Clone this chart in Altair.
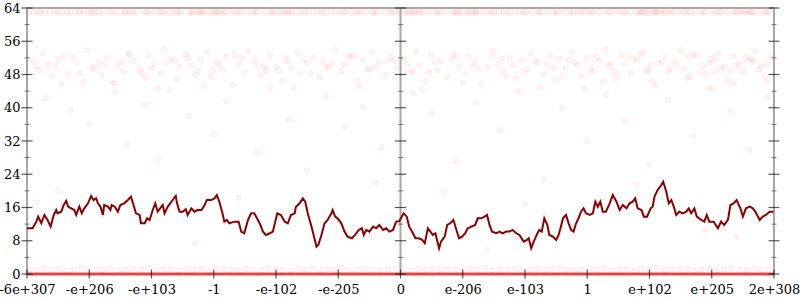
import json
import altair as alt
import pandas as pd

# ---------------- data ----------------
tick_positions = [-6, -5, -4, -3, -2, -1, 0, 1, 2, 3, 4, 5, 6]
tick_labels = ["-6e+307", "-e+206", "-e+103", "-1", "-e-102", "-e-205", "0",
               "e-206", "e-103", "1", "e+102", "e+205", "2e+308"]
y_major = [0, 8, 16, 24, 32, 40, 48, 56, 64]
y_minor = [4, 12, 20, 28, 36, 44, 52, 60]
y_tick_columns = [-6, 0, 6]

line_x = [-6.00, -5.91, -5.85, -5.82, -5.77, -5.72, -5.67, -5.62, -5.57, -5.53, -5.51, -5.45, -5.41, -5.37, -5.34,
          -5.29, -5.24, -5.21, -5.16, -5.12, -5.08, -5.02, -4.97, -4.93, -4.89, -4.86, -4.82, -4.78, -4.76, -4.70,
          -4.66, -4.64, -4.59, -4.54, -4.50, -4.44, -4.38, -4.33, -4.28, -4.25, -4.19, -4.17, -4.11, -4.07, -4.03,
          -3.98, -3.94, -3.90, -3.84, -3.82, -3.79, -3.74, -3.70, -3.66, -3.61, -3.59, -3.55, -3.50, -3.45, -3.42,
          -3.36, -3.31, -3.26, -3.20, -3.16, -3.11, -3.04, -2.99, -2.95, -2.91, -2.86, -2.83, -2.79, -2.75, -2.67,
          -2.60, -2.56, -2.51, -2.45, -2.40, -2.35, -2.29, -2.25, -2.21, -2.16, -2.10, -2.05, -1.98, -1.92, -1.86,
          -1.81, -1.76, -1.70, -1.68, -1.62, -1.57, -1.53, -1.49, -1.43, -1.39, -1.35, -1.32, -1.27, -1.22, -1.17,
          -1.11, -1.09, -1.05, -1.01, -0.95, -0.90, -0.85, -0.78, -0.73, -0.67, -0.62, -0.59, -0.55, -0.50, -0.44,
          -0.39, -0.34, -0.28, -0.23, -0.18, -0.12, -0.07, -0.02, 0.05, 0.10, 0.14, 0.20, 0.24, 0.29, 0.35,
          0.39, 0.44, 0.48, 0.52, 0.56, 0.62, 0.65, 0.71, 0.75, 0.80, 0.85, 0.89, 0.94, 0.99, 1.04,
          1.08, 1.14, 1.20, 1.24, 1.30, 1.35, 1.39, 1.43, 1.47, 1.54, 1.59, 1.64, 1.70, 1.75, 1.80,
          1.86, 1.91, 1.98, 2.03, 2.06, 2.10, 2.14, 2.20, 2.23, 2.27, 2.31, 2.36, 2.39, 2.45, 2.50,
          2.54, 2.57, 2.61, 2.66, 2.70, 2.74, 2.78, 2.82, 2.86, 2.90, 2.94, 2.98, 3.04, 3.09, 3.13,
          3.17, 3.21, 3.25, 3.30, 3.36, 3.41, 3.47, 3.52, 3.57, 3.63, 3.68, 3.73, 3.77, 3.81, 3.87,
          3.91, 3.96, 4.02, 4.05, 4.08, 4.13, 4.19, 4.22, 4.27, 4.31, 4.35, 4.39, 4.43, 4.48, 4.53,
          4.59, 4.63, 4.67, 4.72, 4.76, 4.83, 4.88, 4.92, 4.96, 5.03, 5.10, 5.15, 5.20, 5.26, 5.30,
          5.35, 5.40, 5.46, 5.50, 5.55, 5.61, 5.66, 5.70, 5.77, 5.82, 5.87, 5.93, 5.99]
line_y = [11.0, 11.0, 12.6, 13.8, 12.2, 14.2, 13.0, 11.4, 14.2, 15.4, 14.6, 15.0, 16.6, 17.6, 16.2,
          15.8, 15.4, 14.2, 16.2, 14.6, 15.8, 17.0, 18.8, 17.8, 18.2, 17.0, 16.2, 14.2, 16.6, 16.2,
          15.4, 16.6, 16.2, 15.0, 16.6, 17.0, 17.8, 18.6, 16.2, 14.6, 14.2, 12.2, 12.2, 13.4, 13.0,
          15.4, 17.0, 15.0, 16.2, 16.6, 14.6, 16.2, 17.0, 17.8, 18.8, 17.0, 15.0, 15.0, 15.6, 14.2,
          15.8, 15.0, 15.4, 15.4, 16.2, 17.8, 17.8, 18.2, 19.0, 17.4, 14.6, 12.6, 13.0, 12.2, 12.6,
          12.6, 10.2, 9.8, 13.0, 14.6, 14.6, 13.0, 11.8, 10.2, 9.4, 9.8, 10.2, 14.6, 14.2, 12.6,
          12.2, 14.2, 14.6, 16.2, 17.0, 18.2, 17.4, 14.6, 11.4, 9.0, 6.6, 7.0, 9.4, 12.2, 13.0,
          14.6, 15.4, 13.8, 13.4, 12.2, 10.2, 9.0, 8.6, 9.4, 10.6, 11.0, 9.4, 10.6, 10.2, 11.4,
          11.0, 11.8, 10.6, 11.0, 10.2, 10.6, 12.6, 12.7, 14.6, 13.8, 11.4, 9.8, 8.6, 8.6, 8.2,
          7.4, 11.0, 10.2, 9.4, 9.8, 6.2, 7.8, 9.0, 11.8, 12.2, 13.0, 11.0, 8.6, 9.0, 9.8,
          11.0, 11.4, 11.8, 13.4, 13.4, 13.8, 14.2, 11.8, 10.2, 9.8, 10.2, 9.8, 10.2, 10.2, 10.6,
          9.8, 9.4, 7.8, 8.2, 8.6, 6.2, 7.8, 9.8, 10.6, 10.2, 13.4, 11.8, 9.4, 9.0, 8.2,
          9.4, 11.0, 13.4, 14.2, 12.2, 10.6, 10.2, 12.2, 13.4, 15.0, 15.8, 14.6, 14.2, 14.6, 17.4,
          16.2, 17.4, 15.0, 15.0, 17.0, 19.0, 17.4, 15.4, 16.6, 15.8, 17.0, 17.4, 18.2, 15.8, 15.4,
          13.8, 13.8, 15.8, 16.2, 18.6, 20.2, 21.4, 22.2, 19.8, 17.0, 17.8, 16.2, 14.2, 15.0, 14.6,
          15.0, 15.8, 14.6, 15.8, 13.8, 13.0, 12.6, 14.2, 12.6, 12.6, 11.0, 12.6, 11.8, 13.0, 16.6,
          17.0, 17.8, 15.8, 13.8, 15.8, 16.2, 15.8, 15.0, 13.0, 13.8, 14.2, 15.0, 15.0]

cloud_x = [-5.9, -5.8, -5.75, -5.6, -5.55, -5.4, -5.35, -5.2, -5.1, -5.05, -4.95, -4.85, -4.8, -4.7, -4.6,
           -4.55, -4.45, -4.35, -4.3, -4.2, -4.1, -4.05, -3.95, -3.85, -3.8, -3.7, -3.6, -3.55, -3.45, -3.35,
           -3.3, -3.2, -3.1, -3.05, -2.95, -2.85, -2.8, -2.7, -2.6, -2.5, -2.45, -2.35, -2.25, -2.2, -2.1,
           -2.0, -1.9, -1.85, -1.75, -1.65, -1.6, -1.5, -1.4, -1.3, -1.25, -1.15, -1.05, -0.95, -0.9, -0.8,
           -0.7, -0.6, -0.5, -0.45, -0.35, -0.25, -0.15, -0.05, 0.05, 0.15, 0.25, 0.3, 0.4, 0.5, 0.6,
           0.65, 0.75, 0.85, 0.95, 1.05, 1.1, 1.2, 1.3, 1.4, 1.5, 1.55, 1.65, 1.75, 1.85, 1.95,
           2.05, 2.1, 2.2, 2.3, 2.4, 2.5, 2.55, 2.65, 2.75, 2.85, 2.9, 3.0, 3.1, 3.2, 3.3,
           3.35, 3.45, 3.55, 3.6, 3.7, 3.8, 3.9, 3.95, 4.05, 4.15, 4.25, 4.3, 4.4, 4.5, 4.55,
           4.65, 4.75, 4.85, 4.9, 5.0, 5.1, 5.2, 5.25, 5.35, 5.45, 5.5, 5.6, 5.7, 5.75, 5.85, 5.95,
           -5.67, -5.28, -4.92, -4.48, -4.16, -3.76, -3.42, -3.02, -2.66, -2.28, -1.96, -1.55, -1.2, -0.84, -0.52,
           -0.2, 0.12, 0.46, 0.82, 1.16, 1.46, 1.8, 2.16, 2.46, 2.8, 3.14, 3.42, 3.74, 4.02, 4.34,
           4.62, 4.96, 5.3, 5.64, 5.9,
           -5.86, -5.5, -5.15, -4.75, -4.38, -4.0, -3.63, -3.25, -2.9, -2.55, -2.16, -1.8, -1.45, -1.1, -0.75,
           -0.4, -0.1, 0.2, 0.55, 0.9, 1.25, 1.62, 1.98, 2.35, 2.7, 3.05, 3.38, 3.66, 3.98, 4.2,
           4.45, 4.7, 4.8, 5.05, 5.15, 5.4, 5.55, 5.8, 2.6, 3.5, 3.85, 4.6, 5.05, 5.68, 1.7,
           -3.15, -3.9, -4.62, -5.45, -1.72, -0.65, 0.35, 1.0, 2.25, 2.95, 3.25, 4.1, 4.95, 5.35, 5.88]
cloud_y = [51.2, 49.0, 53.1, 47.5, 50.3, 52.4, 48.1, 51.0, 46.2, 53.8, 49.6, 50.8, 47.9, 52.1, 45.8,
           50.1, 48.7, 53.0, 51.4, 49.3, 47.2, 52.6, 50.6, 48.4, 54.1, 51.8, 46.9, 49.9, 52.9, 50.2,
           48.0, 51.6, 53.4, 47.6, 50.9, 49.1, 52.3, 45.5, 50.5, 48.6, 53.6, 51.1, 47.8, 49.8, 52.7,
           50.0, 46.5, 51.9, 49.4, 53.2, 48.3, 50.7, 52.0, 47.3, 51.3, 49.7, 53.9, 48.8, 50.4, 52.5,
           46.7, 51.5, 49.2, 53.3, 50.8, 47.9, 52.2, 49.5, 51.7, 48.5, 53.5, 50.3, 46.4, 52.8, 49.0,
           51.2, 47.4, 53.0, 50.1, 48.2, 52.4, 51.0, 45.9, 49.8, 53.7, 50.6, 48.9, 52.0, 47.1, 51.4,
           49.3, 53.1, 50.9, 48.0, 52.6, 46.8, 51.8, 49.6, 53.4, 50.2, 47.7, 52.1, 48.8, 51.3, 54.0,
           49.9, 47.0, 52.7, 50.5, 48.4, 51.6, 53.3, 49.1, 46.3, 50.8, 52.3, 48.6, 51.1, 53.8, 49.4,
           47.6, 52.9, 50.0, 48.1, 51.9, 53.0, 49.7, 46.6, 52.4, 50.4, 48.7, 51.5, 53.6, 49.2, 47.4, 52.0,
           50.4, 52.2, 49.5, 51.0, 48.3, 50.7, 51.9, 49.0, 52.8, 50.1, 48.9, 51.6, 50.0, 52.5, 49.3,
           51.2, 50.6, 48.6, 51.8, 49.9, 52.3, 50.2, 51.4, 49.6, 50.9, 52.1, 48.8, 51.5, 50.3, 49.4,
           52.6, 50.8, 49.1, 51.7, 50.5,
           49.8, 51.7, 48.4, 50.6, 52.8, 49.5, 51.3, 48.9, 50.2, 52.0, 49.0, 51.1, 48.2, 50.8, 52.4,
           49.7, 51.5, 48.7, 50.9, 52.2, 49.2, 51.8, 48.6, 50.4, 51.6, 49.3, 50.7, 52.6, 48.8, 51.0,
           50.1, 52.7, 48.5, 51.4, 49.6, 50.3, 52.1, 49.9, 47.8, 48.3, 52.9, 47.2, 48.9, 51.2, 47.6,
           45.2, 44.6, 46.0, 45.6, 44.9, 45.3, 44.4, 46.1, 45.0, 44.7, 46.3, 45.4, 44.8, 45.9, 46.2]

sparse_x = [-5.7, -5.3, -5.0, -4.6, -4.4, -4.1, -3.9, -3.7, -3.4, -3.0, -2.8, -2.3, -2.1, -1.8, -1.5,
            -1.2, -0.9, -0.6, -0.3, 0.2, 0.5, 0.9, 1.2, 1.6, 1.9, 2.3, 2.6, 3.0, 3.3, 3.6,
            4.0, 4.3, 4.7, 5.0, 5.3, 5.6, 5.9, -5.5, -2.6, 0.7, 3.8, -4.8, -1.0, 2.0, 4.9,
            -3.3, 1.4, 5.4, -5.85, -0.4]
sparse_y = [42.3, 39.5, 36.1, 43.6, 31.0, 40.8, 27.5, 44.2, 38.0, 33.6, 41.7, 29.2, 44.8, 37.2, 24.9,
            42.9, 35.4, 40.1, 30.5, 43.5, 38.6, 27.0, 41.2, 34.5, 44.0, 22.8, 39.8, 31.9, 43.1, 36.7,
            26.3, 41.9, 33.2, 44.5, 38.9, 29.8, 42.6, 20.1, 18.4, 19.7, 21.5, 14.3, 12.6, 16.8, 10.5,
            7.5, 5.8, 8.9, 17.2, 22.0]

top_row_x = [-5.97, -5.9, -5.82, -5.71, -5.63, -5.55, -5.44, -5.36, -5.3, -5.22, -5.1, -5.02, -4.98, -4.9, -4.85,
             -4.78, -4.7, -4.58, -4.49, -4.43, -4.35, -4.3, -4.25, -4.12, -4.03, -3.96, -3.88, -3.8, -3.73, -3.66,
             -3.6, -3.52, -3.4, -3.33, -3.21, -3.15, -3.02, -2.95, -2.88, -2.8, -2.71, -2.64, -2.55, -2.47, -2.38,
             -2.3, -2.2, -2.1, -2.03, -1.95, -1.86, -1.75, -1.68, -1.6, -1.49, -1.4, -1.33, -1.22, -1.12, -1.04,
             -0.97, -0.88, -0.8, -0.72, -0.63, -0.55, -0.45, -0.38, -0.27, -0.18, -0.1, -0.02, 0.07, 0.14, 0.22,
             0.3, 0.38, 0.47, 0.56, 0.64, 0.72, 0.81, 0.9, 0.99, 1.07, 1.15, 1.24, 1.33, 1.41, 1.5,
             1.58, 1.66, 1.76, 1.85, 1.93, 2.02, 2.1, 2.19, 2.27, 2.36, 2.45, 2.53, 2.61, 2.7, 2.78,
             2.85, 2.9, 2.96, 3.02, 3.1, 3.2, 3.28, 3.37, 3.45, 3.53, 3.62, 3.7, 3.79, 3.88, 3.96,
             4.05, 4.13, 4.22, 4.31, 4.39, 4.48, 4.56, 4.65, 4.73, 4.82, 4.9, 4.99, 5.07, 5.16, 5.24,
             5.33, 5.41, 5.5, 5.58, 5.67, 5.75, 5.84, 5.92,
             -3.36, -3.28, -3.18, -3.08, -2.98, -2.84, -1.9, -1.82, 0.18, 0.26, 0.9, 0.96, 1.1, 1.2,
             3.86, 3.92, 4.0, 4.1, 4.18, 4.26, 5.46, 5.54, 5.62,
             -5.78, -5.5, -5.16, -4.94, -4.64, -4.4, -4.08, -3.84, -3.56, -3.24, -2.92, -2.6, -2.34, -2.06, -1.8,
             -1.54, -1.26, -0.92, -0.68, -0.42, -0.14, 0.1, 0.34, 0.6, 0.86, 1.2, 1.46, 1.72, 1.98, 2.24,
             2.5, 2.74, 3.06, 3.34, 3.58, 3.84, 4.09, 4.35, 4.6, 4.86, 5.12, 5.38, 5.64, 5.88]
top_row_y = [63.0] * len(top_row_x)

low_row_x = [-5.95, -5.84, -5.73, -5.6, -5.48, -5.37, -5.25, -5.12, -5.0, -4.88, -4.77, -4.65, -4.52, -4.4, -4.29,
             -4.16, -4.04, -3.92, -3.81, -3.69, -3.56, -3.44, -3.33, -3.2, -3.08, -2.96, -2.85, -2.72, -2.6, -2.48,
             -2.37, -2.24, -2.12, -2.0, -1.89, -1.76, -1.64, -1.52, -1.41, -1.28, -1.16, -1.04, -0.93, -0.8, -0.68,
             -0.56, -0.45, -0.32, -0.2, -0.08, 0.03, 0.16, 0.28, 0.4, 0.51, 0.64, 0.76, 0.88, 0.99, 1.12,
             1.24, 1.36, 1.47, 1.6, 1.72, 1.84, 1.95, 2.08, 2.2, 2.32, 2.43, 2.56, 2.68, 2.8, 2.91,
             3.04, 3.16, 3.28, 3.39, 3.52, 3.64, 3.76, 3.87, 4.0, 4.12, 4.24, 4.35, 4.48, 4.6, 4.72,
             4.83, 4.96, 5.08, 5.2, 5.31, 5.44, 5.56, 5.68, 5.79, 5.92]
low_row_y = [1.2, 0.9, 1.4, 1.0, 1.3, 0.8, 1.1, 1.5, 0.9, 1.2, 1.0, 1.4, 0.8, 1.1, 1.3,
             1.0, 1.5, 0.9, 1.2, 1.1, 0.8, 1.4, 1.0, 1.3, 0.9, 1.2, 1.5, 1.0, 0.8, 1.3,
             1.1, 0.9, 1.4, 1.2, 1.0, 0.8, 1.3, 1.1, 1.5, 0.9, 1.2, 1.0, 1.4, 0.8, 1.1,
             1.3, 1.0, 0.9, 1.2, 1.5, 1.1, 0.8, 1.3, 1.0, 1.4, 0.9, 1.2, 1.1, 0.8, 1.3,
             1.0, 1.5, 0.9, 1.2, 1.1, 1.4, 0.8, 1.0, 1.3, 0.9, 1.2, 1.5, 1.0, 0.8, 1.1,
             1.3, 1.0, 1.4, 0.9, 1.2, 1.1, 0.8, 1.3, 1.0, 1.5, 0.9, 1.2, 1.1, 1.4, 0.8,
             1.0, 1.3, 0.9, 1.2, 1.5, 1.1, 0.8, 1.3, 1.0, 1.2]

zero_row_x = [-6.0, 6.0]
zero_row_y = [0.0, 0.0]

# ---------------- frames ----------------
line_df = pd.DataFrame({"x": line_x, "y": line_y})
pts_df = pd.DataFrame({
    "x": cloud_x + sparse_x + top_row_x + low_row_x,
    "y": cloud_y + sparse_y + top_row_y + low_row_y,
})
zero_df = pd.DataFrame({"x": zero_row_x, "y": zero_row_y})
major_df = pd.DataFrame([{"x": c, "y": v} for c in y_tick_columns for v in y_major])
minor_df = pd.DataFrame([{"x": c, "y": v} for c in y_tick_columns for v in y_minor])
xtick_df = pd.DataFrame({"x": tick_positions, "y": [0] * len(tick_positions)})
center_df = pd.DataFrame({"x": [0]})

label_expr = json.dumps(tick_labels) + "[datum.value + 6]"

xscale = alt.Scale(domain=[-6, 6], nice=False, zero=False)
yscale = alt.Scale(domain=[0, 64], nice=False, zero=False)
xaxis = alt.Axis(values=tick_positions, labelExpr=label_expr, labelFlush=False,
                 labelOverlap=False, labelPadding=9, title=None, orient="bottom")
yaxis = alt.Axis(values=y_major, labelPadding=7, title=None, orient="left",
                 labelBaseline="middle")


def X():
    return alt.X("x:Q", scale=xscale, axis=xaxis)


def Y():
    return alt.Y("y:Q", scale=yscale, axis=yaxis)


points = alt.Chart(pts_df).mark_circle(
    size=30, fill="#ff2020", fillOpacity=0.05, stroke="#ff2020", strokeOpacity=0.06, strokeWidth=1
).encode(x=X(), y=Y())

zero_line = alt.Chart(zero_df).mark_line(color="#e23b3b", strokeWidth=3, opacity=0.9).encode(x=X(), y=Y())

center = alt.Chart(center_df).mark_rule(color="#a8a8a8", strokeWidth=2).encode(x=X())

main_line = alt.Chart(line_df).mark_line(color="#8b0000", strokeWidth=2).encode(x=X(), y=Y())

major_ticks = alt.Chart(major_df).mark_tick(
    orient="horizontal", size=11, thickness=1.2, color="#111"
).encode(x=X(), y=Y())
minor_ticks = alt.Chart(minor_df).mark_tick(
    orient="horizontal", size=5, thickness=1, color="#444"
).encode(x=X(), y=Y())
x_ticks = alt.Chart(xtick_df).mark_tick(
    orient="vertical", size=9, thickness=1.2, color="#111"
).encode(x=X(), y=Y())

chart = alt.layer(
    points, center, zero_line, main_line, major_ticks, minor_ticks, x_ticks
).properties(
    width=747, height=266,
    autosize=alt.AutoSizeParams(type="none"),
    padding={"left": 27, "top": 8, "right": 26, "bottom": 26},
    background="white",
).configure_view(
    stroke="#a8a8a8", strokeWidth=2
).configure_axis(
    labelFont="DejaVu Serif", labelFontSize=13, labelColor="#000",
    grid=False, domain=False, ticks=False
)

chart.save("out.html", embed_options={"renderer": "svg", "actions": False})
